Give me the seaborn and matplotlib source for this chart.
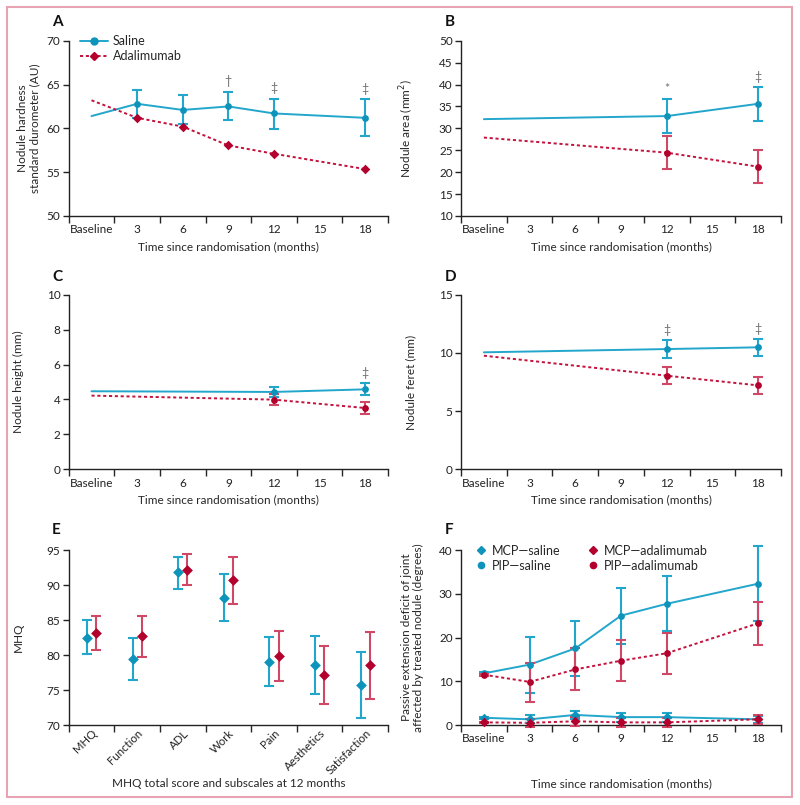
import numpy as np
import pandas as pd
import matplotlib
matplotlib.use("Agg")
import matplotlib.pyplot as plt
from matplotlib.lines import Line2D
from matplotlib.patches import Rectangle
from matplotlib.ticker import FixedLocator, NullFormatter, FixedFormatter
import seaborn as sns

# ---------------- data ----------------
time_labels = ["Baseline", "3", "6", "9", "12", "15", "18"]

# Panel A: nodule hardness
a_times = ["Baseline", "3", "6", "9", "12", "18"]
a_sal = [61.4, 62.8, 62.1, 62.5, 61.7, 61.2]
a_sal_lo = [np.nan, 61.2, 60.5, 60.9, 59.9, 59.1]
a_sal_hi = [np.nan, 64.4, 63.8, 64.2, 63.4, 63.3]
a_ada = [63.2, 61.2, 60.2, 58.05, 57.1, 55.35]
a_sig_times = ["9", "12", "18"]
a_sig_marks = ["†", "‡", "‡"]

# Panel B: nodule area
b_times = ["Baseline", "12", "18"]
b_sal = [32.1, 32.8, 35.6]
b_sal_lo = [np.nan, 29.0, 31.75]
b_sal_hi = [np.nan, 36.6, 39.5]
b_ada = [27.9, 24.45, 21.25]
b_ada_lo = [np.nan, 20.65, 17.45]
b_ada_hi = [np.nan, 28.25, 25.0]
b_sig_times = ["12", "18"]
b_sig_marks = ["*", "‡"]

# Panel C: nodule height
c_times = ["Baseline", "12", "18"]
c_sal = [4.47, 4.43, 4.58]
c_sal_lo = [np.nan, 4.15, 4.26]
c_sal_hi = [np.nan, 4.73, 4.92]
c_ada = [4.22, 3.99, 3.51]
c_ada_lo = [np.nan, 3.67, 3.19]
c_ada_hi = [np.nan, 4.31, 3.84]
c_sig_times = ["18"]
c_sig_marks = ["‡"]

# Panel D: nodule feret
d_times = ["Baseline", "12", "18"]
d_sal = [10.05, 10.33, 10.48]
d_sal_lo = [np.nan, 9.59, 9.73]
d_sal_hi = [np.nan, 11.08, 11.22]
d_ada = [9.76, 8.04, 7.21]
d_ada_lo = [np.nan, 7.33, 6.5]
d_ada_hi = [np.nan, 8.79, 7.96]
d_sig_times = ["12", "18"]
d_sig_marks = ["‡", "‡"]

# Panel E: MHQ at 12 months
e_cats = ["MHQ", "Function", "ADL", "Work", "Pain", "Aesthetics", "Satisfaction"]
e_sal = [82.5, 79.4, 91.8, 88.2, 79.05, 78.55, 75.7]
e_sal_lo = [80.1, 76.45, 89.5, 84.85, 75.55, 74.45, 70.95]
e_sal_hi = [84.95, 82.4, 94.05, 91.55, 82.6, 82.7, 80.5]
e_ada = [83.15, 82.7, 92.2, 90.7, 79.85, 77.1, 78.55]
e_ada_lo = [80.7, 79.75, 90.0, 87.35, 76.3, 72.95, 73.75]
e_ada_hi = [85.6, 85.6, 94.5, 94.05, 83.5, 81.3, 83.3]

# Panel F: passive extension deficit
f_times = ["Baseline", "3", "6", "9", "12", "18"]
f_pip_sal = [11.8, 13.8, 17.5, 25.0, 27.7, 32.3]
f_pip_sal_lo = [11.5, 7.4, 11.1, 18.6, 21.4, 23.8]
f_pip_sal_hi = [12.1, 20.1, 23.85, 31.3, 34.0, 40.9]
f_pip_ada = [11.5, 9.85, 12.7, 14.7, 16.4, 23.25]
f_pip_ada_lo = [11.3, 5.35, 7.9, 10.05, 11.6, 18.4]
f_pip_ada_hi = [11.7, 14.25, 17.5, 19.45, 21.1, 28.1]
f_mcp_sal = [1.65, 1.3, 2.3, 1.8, 1.8, 1.3]
f_mcp_sal_lo = [1.45, 0.35, 1.3, 0.8, 0.8, 0.5]
f_mcp_sal_hi = [1.85, 2.3, 3.25, 2.8, 2.8, 2.1]
f_mcp_ada = [0.6, 0.5, 0.85, 0.6, 0.6, 1.3]
f_mcp_ada_lo = [0.45, -0.5, -0.25, -0.4, -0.4, 0.15]
f_mcp_ada_hi = [0.75, 1.45, 1.9, 1.55, 1.55, 2.4]

# ---------------- style ----------------
sns.set_theme(style="ticks")
plt.rcParams["font.family"] = ["Lato", "DejaVu Sans"]
plt.rcParams["axes.linewidth"] = 1.0
plt.rcParams["axes.edgecolor"] = "#222222"

BLUE = "#23a6cb"
BLUE_M = "#0e93ba"
RED = "#c3123d"
RED_M = "#b3002d"
RED_E = "#cf4866"
GREY = "#707070"
FS = 8.5

fig = plt.figure(figsize=(8.0, 8.05), dpi=100)
W, H = 800.0, 805.0


def add_ax(l, r, t, b):
    return fig.add_axes([l / W, 1 - b / H, (r - l) / W, (b - t) / H])


axA = add_ax(68.7, 388, 40.7, 216)
axB = add_ax(461, 781, 40.7, 216)
axC = add_ax(68.7, 388, 294.7, 469.3)
axD = add_ax(461, 781, 294.7, 469.3)
axE = add_ax(68.7, 388, 550, 725)
axF = add_ax(461, 781, 550, 725)

pos = {lab: i for i, lab in enumerate(time_labels)}


def style_axis(ax, labels, ylim, yticks):
    n = len(labels)
    ax.set_xlim(-0.5, n - 0.5)
    ax.set_ylim(*ylim)
    ax.set_yticks(yticks)
    ax.xaxis.set_major_locator(FixedLocator(np.arange(-0.5, n, 1.0)))
    ax.xaxis.set_major_formatter(NullFormatter())
    ax.xaxis.set_minor_locator(FixedLocator(np.arange(n)))
    ax.xaxis.set_minor_formatter(FixedFormatter(labels))
    ax.tick_params(axis="x", which="major", length=5, width=1.0, direction="out")
    ax.tick_params(axis="x", which="minor", length=0, labelsize=FS, pad=6, colors="#222222")
    ax.tick_params(axis="y", length=4, width=1.0, direction="out", labelsize=FS, pad=2,
                   colors="#222222")
    sns.despine(ax=ax)
    ax.set_facecolor("none")


def line_panel(ax, times, sal, sal_lo, sal_hi, ada, ada_lo, ada_hi, sig_t, sig_m,
               ada_marker, ylabel, ylim, yticks, ylab_x):
    style_axis(ax, time_labels, ylim, yticks)
    df = pd.DataFrame({
        "x": [pos[t] for t in times] * 2,
        "y": list(sal) + list(ada),
        "group": ["Saline"] * len(times) + ["Adalimumab"] * len(times),
    })
    sns.lineplot(data=df, x="x", y="y", hue="group", style="group",
                 palette={"Saline": BLUE, "Adalimumab": RED},
                 dashes={"Saline": "", "Adalimumab": (1.6, 1.4)},
                 linewidth=1.4, ax=ax, legend=False)
    xs = np.array([pos[t] for t in times], dtype=float)
    for vals, lo, hi, col, ecol, mk in [
        (sal, sal_lo, sal_hi, BLUE_M, BLUE, "o"),
        (ada, ada_lo, ada_hi, RED_M, RED_E, ada_marker),
    ]:
        vals = np.array(vals, float)
        if lo is not None:
            lo = np.array(lo, float)
            hi = np.array(hi, float)
            m = ~np.isnan(lo)
            ax.errorbar(xs[m], vals[m], yerr=[vals[m] - lo[m], hi[m] - vals[m]], fmt="none",
                        ecolor=ecol, elinewidth=1.5, capsize=3.5, capthick=1.5, zorder=3,
                        clip_on=False)
        sub = pd.DataFrame({"x": xs[1:], "y": vals[1:]})
        sns.scatterplot(data=sub, x="x", y="y", marker=mk, s=24, color=col,
                        edgecolor=col, linewidth=0, ax=ax, zorder=4, clip_on=False)
    for t, mark in zip(sig_t, sig_m):
        i = times.index(t)
        top = sal_hi[i]
        ax.annotate(mark, (pos[t], top), xytext=(0, 3), textcoords="offset points",
                    ha="center", va="bottom", fontsize=9, color=GREY)
    ax.set_xlabel("Time since randomisation (months)", fontsize=FS)
    ax.set_ylabel(ylabel, fontsize=FS, linespacing=1.15, multialignment="center")
    ax.xaxis.set_label_coords(0.5, -0.145)
    ax.yaxis.set_label_coords(ylab_x, 0.5)


line_panel(axA, a_times, a_sal, a_sal_lo, a_sal_hi, a_ada, None, None, a_sig_times,
           a_sig_marks, "D", "Nodule hardness\nstandard durometer (AU)", (50, 70),
           [50, 55, 60, 65, 70], -0.09)
line_panel(axB, b_times, b_sal, b_sal_lo, b_sal_hi, b_ada, b_ada_lo, b_ada_hi, b_sig_times,
           b_sig_marks, "o", "Nodule area (mm$^2$)", (10, 50), list(range(10, 51, 5)), -0.14)
line_panel(axC, c_times, c_sal, c_sal_lo, c_sal_hi, c_ada, c_ada_lo, c_ada_hi, c_sig_times,
           c_sig_marks, "o", "Nodule height (mm)", (0, 10), [0, 2, 4, 6, 8, 10], -0.14)
line_panel(axD, d_times, d_sal, d_sal_lo, d_sal_hi, d_ada, d_ada_lo, d_ada_hi, d_sig_times,
           d_sig_marks, "o", "Nodule feret (mm)", (0, 15), [0, 5, 10, 15], -0.14)

# legend A
hA = [Line2D([], [], color=BLUE, lw=1.4, marker="o", ms=5, mfc=BLUE_M, mec=BLUE_M),
      Line2D([], [], color=RED, lw=1.4, ls=(0, (1.6, 1.4)), marker="D", ms=4.5, mfc=RED_M,
             mec=RED_M)]
axA.legend(hA, ["Saline", "Adalimumab"], loc="upper left", bbox_to_anchor=(0.02, 1.06),
           frameon=False, fontsize=FS + 0.5, handlelength=2.2, handletextpad=0.4,
           labelspacing=0.25, borderaxespad=0)

# ---------------- Panel E ----------------
style_axis(axE, e_cats, (70, 95), [70, 75, 80, 85, 90, 95])
for lab in axE.xaxis.get_minorticklabels():
    lab.set_rotation(45)
    lab.set_ha("right")
    lab.set_rotation_mode("anchor")
axE.tick_params(axis="x", which="minor", pad=2, labelsize=8.2)
ex = np.arange(len(e_cats), dtype=float)
off = 0.1
for vals, lo, hi, col, ecol, dx in [(e_sal, e_sal_lo, e_sal_hi, BLUE_M, BLUE, -off),
                                    (e_ada, e_ada_lo, e_ada_hi, RED_M, RED_E, off)]:
    vals = np.array(vals)
    axE.errorbar(ex + dx, vals, yerr=[vals - np.array(lo), np.array(hi) - vals], fmt="none",
                 ecolor=ecol, elinewidth=1.5, capsize=3.5, capthick=1.5, zorder=3, clip_on=False)
    sns.scatterplot(x=ex + dx, y=vals, marker="D", s=30, color=col, linewidth=0, ax=axE,
                    zorder=4, clip_on=False)
axE.set_xlabel("MHQ total score and subscales at 12 months", fontsize=FS)
axE.set_ylabel("MHQ", fontsize=FS)
axE.xaxis.set_label_coords(0.5, -0.305)
axE.yaxis.set_label_coords(-0.14, 0.5)

# ---------------- Panel F ----------------
style_axis(axF, time_labels, (0, 40), [0, 10, 20, 30, 40])
fx = np.array([pos[t] for t in f_times], dtype=float)
series = [
    ("PIP—saline", f_pip_sal, f_pip_sal_lo, f_pip_sal_hi, BLUE, BLUE_M, BLUE, "o", ""),
    ("PIP—adalimumab", f_pip_ada, f_pip_ada_lo, f_pip_ada_hi, RED, RED_M, RED_E, "o", (1.6, 1.4)),
    ("MCP—saline", f_mcp_sal, f_mcp_sal_lo, f_mcp_sal_hi, BLUE, BLUE_M, BLUE, "D", ""),
    ("MCP—adalimumab", f_mcp_ada, f_mcp_ada_lo, f_mcp_ada_hi, RED, RED_M, RED_E, "D", (1.6, 1.4)),
]
dfF = pd.concat([pd.DataFrame({"x": fx, "y": s[1], "series": s[0]}) for s in series])
sns.lineplot(data=dfF, x="x", y="y", hue="series", style="series",
             palette={s[0]: s[4] for s in series},
             dashes={s[0]: s[8] for s in series}, linewidth=1.4, ax=axF, legend=False)
for name, vals, lo, hi, lc, mc, ec, mk, ds in series:
    vals = np.array(vals)
    axF.errorbar(fx, vals, yerr=[vals - np.array(lo), np.array(hi) - vals], fmt="none",
                 ecolor=ec, elinewidth=1.5, capsize=3.5, capthick=1.5, zorder=3, clip_on=False)
    sns.scatterplot(x=fx, y=vals, marker=mk, s=24, color=mc, linewidth=0, ax=axF, zorder=4,
                    clip_on=False)
axF.set_xlabel("Time since randomisation (months)", fontsize=FS)
axF.set_ylabel("Passive extension deficit of joint\naffected by treated nodule (degrees)",
               fontsize=FS, linespacing=1.15, multialignment="center")
axF.xaxis.set_label_coords(0.5, -0.305)
axF.yaxis.set_label_coords(-0.115, 0.5)
hF = [Line2D([], [], ls="none", marker="D", ms=4.5, mfc=BLUE_M, mec=BLUE_M),
      Line2D([], [], ls="none", marker="o", ms=4.5, mfc=BLUE_M, mec=BLUE_M),
      Line2D([], [], ls="none", marker="D", ms=4.5, mfc=RED_M, mec=RED_M),
      Line2D([], [], ls="none", marker="o", ms=4.5, mfc=RED_M, mec=RED_M)]
axF.legend(hF, ["MCP—saline", "PIP—saline", "MCP—adalimumab", "PIP—adalimumab"], ncol=2,
           loc="upper left", bbox_to_anchor=(0.03, 1.06), frameon=False, fontsize=FS + 0.5,
           handlelength=0.8, handletextpad=0.5, labelspacing=0.25, columnspacing=2.2,
           borderaxespad=0)

# panel letters
for lab, x, y in [("A", 52, 22), ("B", 445, 22), ("C", 52, 277), ("D", 445, 277),
                  ("E", 52, 530), ("F", 445, 530)]:
    fig.text(x / W, 1 - y / H, lab, fontsize=11, fontweight="bold", ha="left", va="center",
             color="#111111")

# pink frame
fig.patches.append(Rectangle((7 / W, 1 - 797 / H), 785 / W, 790 / H, transform=fig.transFigure,
                             fill=False, edgecolor="#e7a3b3", linewidth=1.5))

fig.savefig("out.png", dpi=100, facecolor="white")
